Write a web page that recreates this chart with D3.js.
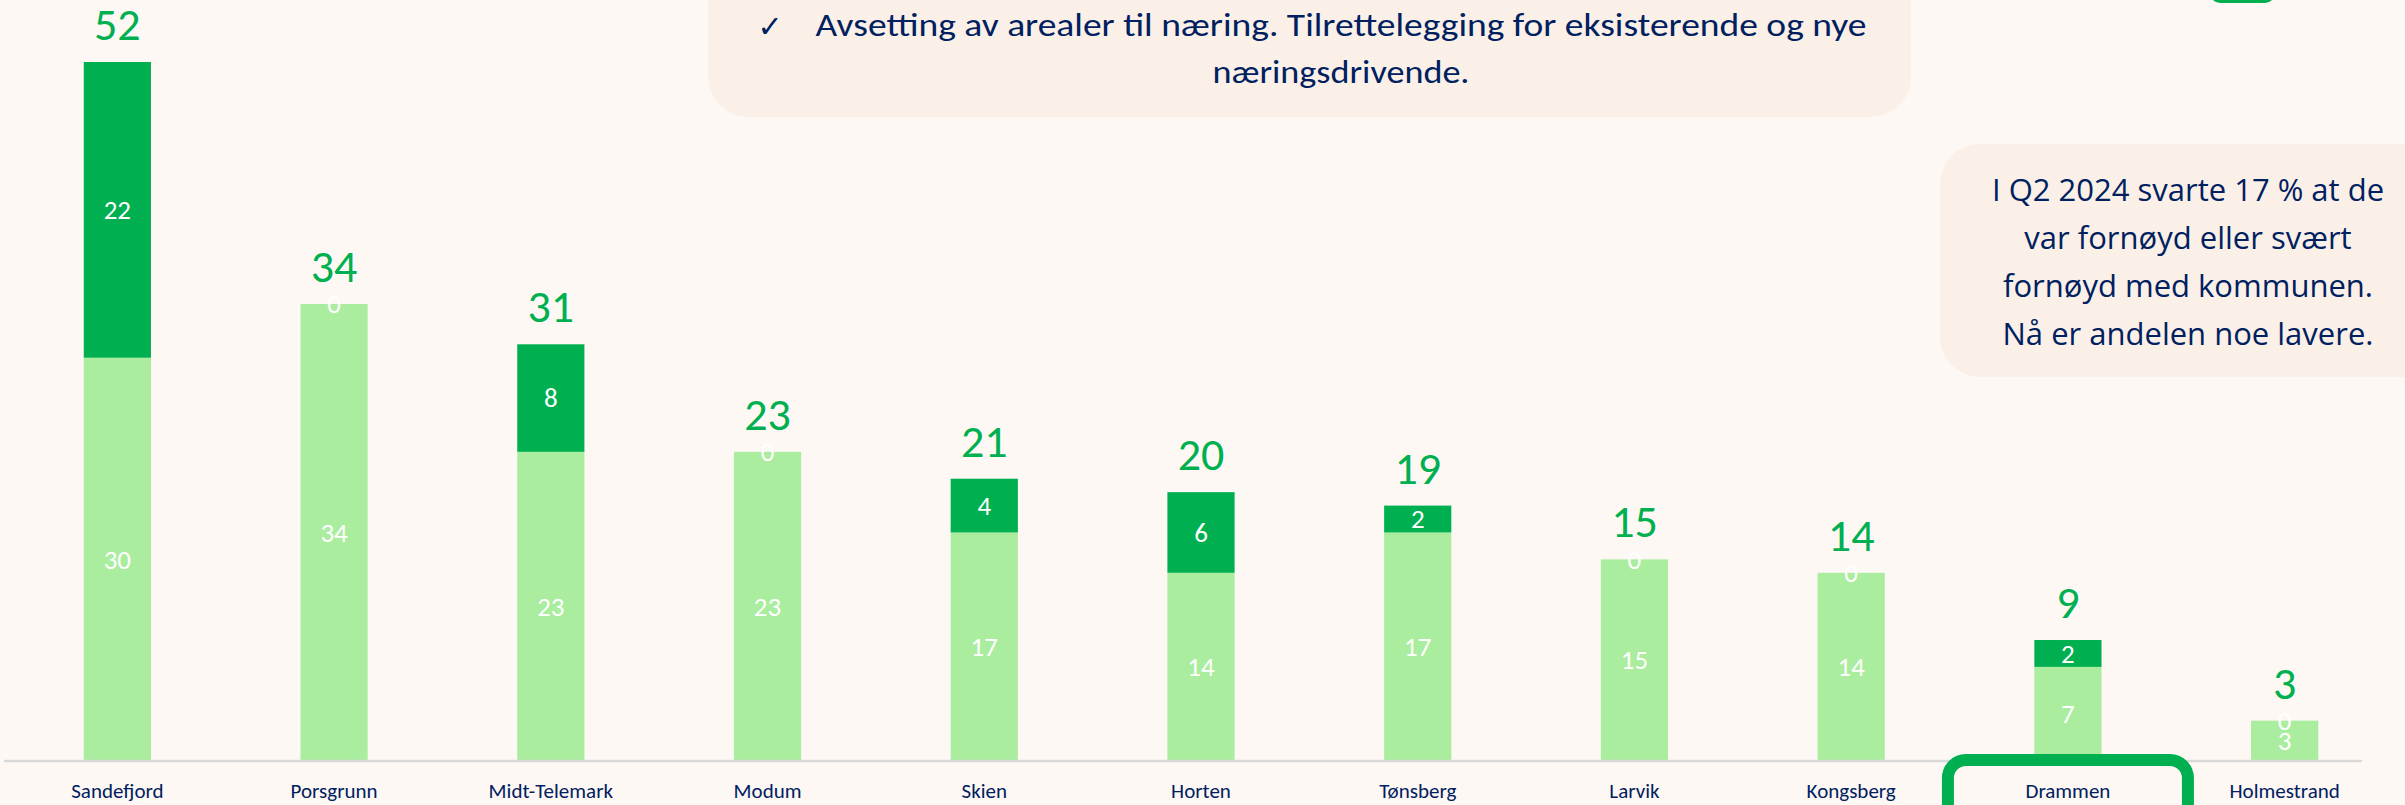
<!DOCTYPE html>
<html>
  <head>
    <meta http-equiv="Content-Type" content="text/html;charset=utf-8" />
    <title>Fornøyd med kommunen</title>
    <script type="text/javascript" src="https://d3js.org/d3.v7.min.js"></script>
    <style>
      body { margin: 0; background: #fdf8f4; overflow: hidden; }
      svg { display: block; }
    </style>
  </head>
  <body>
    <div id="chart"></div>

    <script type="text/javascript">
      var categories = ["Sandefjord", "Porsgrunn", "Midt-Telemark", "Modum", "Skien", "Horten",
        "Tønsberg", "Larvik", "Kongsberg", "Drammen", "Holmestrand"];
      var lowerValues = [30, 34, 23, 23, 17, 14, 17, 15, 14, 7, 3];
      var upperValues = [22, 0, 8, 0, 4, 6, 2, 0, 0, 2, 0];
      var totals = [52, 34, 31, 23, 21, 20, 19, 15, 14, 9, 3];
      var highlighted = "Drammen";

      var noteTop = ["Avsetting av arealer til næring. Tilrettelegging for eksisterende og nye", "næringsdrivende."];
      var noteRight = ["I Q2 2024 svarte 17 % at de", "var fornøyd eller svært", "fornøyd med kommunen.", "Nå er andelen noe lavere."];

      var W = 2405, H = 805;
      var baseY = 761, topY = 62;
      var dark = "#00b050", light = "#aaed9e", navy = "#002060";
      var labelFont = "Carlito, Lato, sans-serif";

      var data = categories.map((c, i) => ({ name: c, lower: lowerValues[i], upper: upperValues[i], total: totals[i] }));

      var svg = d3.select("#chart").append("svg").attr("width", W).attr("height", H);
      svg.append("rect").attr("width", W).attr("height", H).attr("fill", "#fdf8f4");

      var x = d3.scaleBand().domain(categories).range([9, 2393]).paddingInner(0.69).paddingOuter(0.345);
      var y = d3.scaleLinear().domain([0, d3.max(totals)]).range([baseY, topY]);

      // note boxes
      svg.append("rect").attr("x", 708).attr("y", -60).attr("width", 1203).attr("height", 177)
        .attr("rx", 40).attr("fill", "#faf0e8");
      svg.append("rect").attr("x", 1940).attr("y", 144).attr("width", 505).attr("height", 233)
        .attr("rx", 40).attr("fill", "#faf0e8");
      svg.append("rect").attr("x", 2210).attr("y", -40).attr("width", 65).attr("height", 43)
        .attr("rx", 10).attr("fill", dark);

      svg.append("text").attr("x", 770).attr("y", 37).attr("text-anchor", "middle")
        .attr("font-family", "DejaVu Sans").attr("font-size", 30).attr("fill", navy).text("✓");
      svg.selectAll(".note-top").data(noteTop).join("text")
        .attr("class", "note-top")
        .attr("x", 1341).attr("y", (d, i) => 36 + i * 47)
        .attr("text-anchor", "middle")
        .attr("font-family", labelFont).attr("font-size", 33).attr("fill", navy)
        .attr("textLength", (d, i) => i === 0 ? 1051 : 257)
        .attr("lengthAdjust", "spacingAndGlyphs")
        .text(d => d);

      svg.selectAll(".note-right").data(noteRight).join("text")
        .attr("class", "note-right")
        .attr("x", 2188).attr("y", (d, i) => 201 + i * 48)
        .attr("text-anchor", "middle")
        .attr("font-family", "'Open Sans', sans-serif").attr("font-size", 31).attr("fill", navy)
        .text(d => d);

      // stacked bars
      var series = d3.stack().keys(["lower", "upper"])(data);
      var colors = { lower: light, upper: dark };

      var g = svg.append("g");
      series.forEach(s => {
        g.selectAll(".bar-" + s.key).data(s).join("rect")
          .attr("class", "bar-" + s.key)
          .attr("x", d => x(d.data.name))
          .attr("width", x.bandwidth())
          .attr("y", d => y(d[1]))
          .attr("height", d => y(d[0]) - y(d[1]))
          .attr("fill", colors[s.key]);
      });
      series.forEach(s => {
        g.selectAll(".lbl-" + s.key).data(s).join("text")
          .attr("class", "lbl-" + s.key)
          .attr("x", d => x(d.data.name) + x.bandwidth() / 2)
          .attr("y", d => (y(d[0]) + y(d[1])) / 2)
          .attr("dy", "0.34em")
          .attr("text-anchor", "middle")
          .attr("font-family", labelFont).attr("font-size", 27).attr("fill", "#ffffff")
          .text(d => d[1] - d[0]);
      });

      // totals
      g.selectAll(".total").data(data).join("text")
        .attr("class", "total")
        .attr("x", d => x(d.name) + x.bandwidth() / 2)
        .attr("y", d => y(d.total) - 22)
        .attr("text-anchor", "middle")
        .attr("font-family", labelFont).attr("font-size", 46).attr("fill", dark)
        .text(d => d.total);

      // axis
      svg.append("line").attr("x1", 4).attr("x2", 2362).attr("y1", baseY).attr("y2", baseY)
        .attr("stroke", "#d9d9d9").attr("stroke-width", 2.5);
      var ax = svg.append("g").attr("transform", "translate(0," + baseY + ")")
        .call(d3.axisBottom(x).tickSize(0).tickPadding(22));
      ax.select(".domain").remove();
      ax.selectAll("text").attr("font-family", labelFont).attr("font-size", 21).attr("fill", navy);

      // highlight box
      svg.append("rect")
        .attr("x", x(highlighted) + x.bandwidth() / 2 - 120)
        .attr("y", 760)
        .attr("width", 240).attr("height", 120)
        .attr("rx", 18)
        .attr("fill", "none").attr("stroke", dark).attr("stroke-width", 12);
    </script>
  </body>
</html>
